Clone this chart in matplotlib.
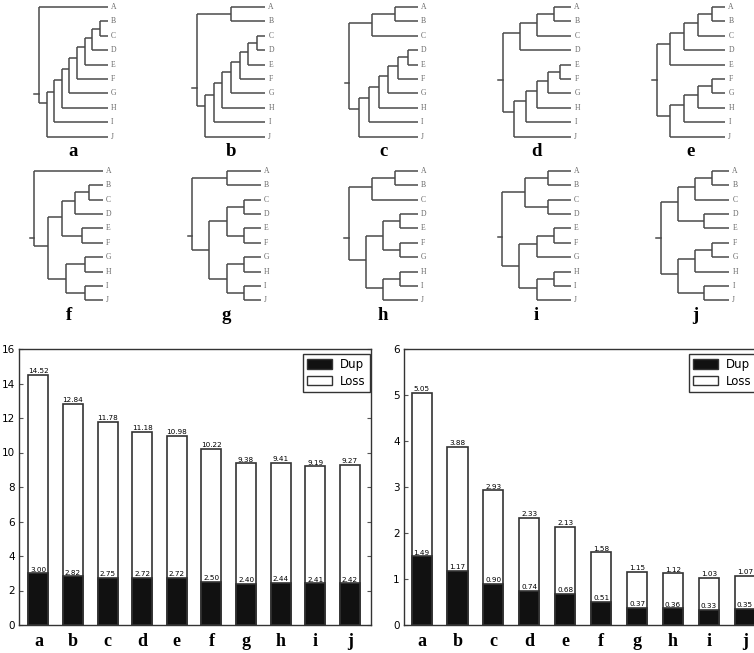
import numpy as np
import matplotlib.pyplot as plt
from matplotlib.patches import Patch

# ==========================================
# 数据
# ==========================================
labels = list('abcdefghij')

# 上方 10 棵树的拓扑 (Newick)
tree_newick = [
    "(A,((((((((B,C),D),E),F),G),H),I),J))",
    "((A,B),(((((((C,D),E),F),G),H),I),J))",
    "(((A,B),C),((((((D,E),F),G),H),I),J))",
    "((((A,B),C),D),(((((E,F),G),H),I),J))",
    "(((((A,B),C),D),E),((((F,G),H),I),J))",
    "(A,((((B,C),D),(E,F)),((G,H),(I,J))))",
    "((A,B),(((C,D),(E,F)),((G,H),(I,J))))",
    "(((A,B),C),(((D,E),(F,G)),((H,I),J)))",
    "(((A,B),(C,D)),(((E,F),G),((H,I),J)))",
    "((((A,B),C),(D,E)),(((F,G),H),(I,J)))",
]

# 下方柱状图
dup_left = [3.00, 2.82, 2.75, 2.72, 2.72, 2.50, 2.40, 2.44, 2.41, 2.42]
loss_left = [14.52, 12.84, 11.78, 11.18, 10.98, 10.22, 9.38, 9.41, 9.19, 9.27]
dup_right = [1.49, 1.17, 0.90, 0.74, 0.68, 0.51, 0.37, 0.36, 0.33, 0.35]
loss_right = [5.05, 3.88, 2.93, 2.33, 2.13, 1.58, 1.15, 1.12, 1.03, 1.07]

FIG_W, FIG_H = 754, 653
TREE_COLOR = '#4a4a4a'
SERIF = ['Liberation Serif', 'DejaVu Serif']


def parse_newick(s):
    """简单的 Newick 解析，返回嵌套 list / 叶子名字符串"""
    pos = 0

    def node():
        nonlocal pos
        if s[pos] == '(':
            pos += 1
            kids = [node()]
            while s[pos] == ',':
                pos += 1
                kids.append(node())
            pos += 1  # ')'
            return kids
        name = ''
        while pos < len(s) and s[pos] not in ',()':
            name += s[pos]
            pos += 1
        return name

    return node()


def n_leaves(t):
    return 1 if isinstance(t, str) else sum(n_leaves(k) for k in t)


def height(t):
    return 0 if isinstance(t, str) else 1 + max(height(k) for k in t)


def layout(t, x_parent, leaf_list, segs):
    """返回 (x, y, 子节点y列表)；叶子右对齐，内部节点 y 按 sqrt(叶子数) 加权"""
    if isinstance(t, str):
        leaf_list.append(t)
        return 1.0, float(len(leaf_list) - 1), None
    x = x_parent + (1.0 - x_parent) / (height(t) + 1) if x_parent is not None else 0.0
    pts = [layout(k, x, leaf_list, segs) for k in t]
    w = np.array([n_leaves(k) ** 0.5 for k in t])
    ys = np.array([p[1] for p in pts])
    y = float((w * ys).sum() / w.sum())
    segs.append(((x, x), (ys[0], ys[-1])))
    for cx, cy, _ in pts:
        segs.append(((x, cx), (cy, cy)))
    return x, y, ys


def draw_tree(ax, newick, letter):
    t = parse_newick(newick)
    leaves, segs = [], []
    _, _, child_ys = layout(t, None, leaves, segs)
    for xs, ys in segs:
        ax.plot(xs, ys, color=TREE_COLOR, lw=1.1, solid_capstyle='butt')
    # 根部短线 (按叶子数加权)
    w = np.array([n_leaves(k) for k in t], dtype=float)
    stub_y = (w * child_ys).sum() / w.sum()
    ax.plot([-0.07, 0], [stub_y, stub_y], color=TREE_COLOR, lw=1.1)
    for i, name in enumerate(leaves):
        ax.text(1.045, i, name, ha='left', va='center', fontsize=5.5,
                color='#666666', family=SERIF)
    ax.text(0.5, 10.05, letter, ha='center', va='center', fontsize=13.5,
            fontweight='bold', family=SERIF)
    ax.set_xlim(-0.15, 1.25)
    ax.set_ylim(9.5, -0.5)
    ax.axis('off')


fig = plt.figure(figsize=(FIG_W / 100, FIG_H / 100), dpi=100)

# 树的位置 (像素)：根节点 x，叶子 A 的 y
root_x = [39, 196.7, 349.3, 502.7, 656.7, 34.3, 192.3, 349, 502.3, 660.7]
row_top = [7, 7, 7, 7, 7, 170.7, 170.7, 170.7, 170.7, 170.7]
W = 68.5
DY = 14.4
for i in range(10):
    left = root_x[i] - 0.15 * W
    top = row_top[i] - 0.5 * DY
    ax = fig.add_axes([left / FIG_W, 1 - (top + 10 * DY) / FIG_H,
                       1.4 * W / FIG_W, 10 * DY / FIG_H])
    ax.patch.set_alpha(0)
    draw_tree(ax, tree_newick[i], labels[i])


def draw_bars(ax, dup, loss, width, xlim, ylim, yticks, right_ticks, leg_anchor):
    x = np.arange(len(labels))
    ax.bar(x, loss, width, color='white', edgecolor='#333333', lw=1.2, zorder=2)
    ax.bar(x, dup, width, color='#111111', edgecolor='#333333', lw=1.2, zorder=3)
    for xi, v in zip(x, loss):
        ax.annotate(f'{v:.2f}', (xi, v), xytext=(0, 0.5), textcoords='offset points',
                    ha='center', va='bottom', fontsize=5.2, zorder=4)
    for xi, v in zip(x, dup):
        ax.annotate(f'{v:.2f}', (xi, v), xytext=(0, 0.5), textcoords='offset points',
                    ha='center', va='bottom', fontsize=5.2, zorder=4)
    ax.set_xlim(*xlim)
    ax.set_ylim(*ylim)
    ax.set_yticks(yticks)
    ax.set_xticks(x)
    ax.set_xticklabels(labels, fontsize=13, fontweight='bold', family=SERIF)
    ax.tick_params(axis='x', length=0, pad=6)
    ax.tick_params(axis='y', direction='in', length=3, labelsize=7.5, right=right_ticks,
                   color='#555555', pad=3)
    for sp in ax.spines.values():
        sp.set_color('#333333')
        sp.set_linewidth(1.0)
    handles = [Patch(facecolor='#111111', edgecolor='#333333', label='Dup'),
               Patch(facecolor='white', edgecolor='#333333', label='Loss')]
    leg = ax.legend(handles=handles, loc='upper right', bbox_to_anchor=leg_anchor,
                    fontsize=8.5, fancybox=False, framealpha=1, edgecolor='#333333',
                    borderaxespad=0, handlelength=2.1, handleheight=0.8,
                    labelspacing=0.3, borderpad=0.35, handletextpad=0.7)
    leg.get_frame().set_linewidth(1.0)


ax_l = fig.add_axes([19 / FIG_W, 1 - 625 / FIG_H, 352 / FIG_W, 276 / FIG_H])
draw_bars(ax_l, dup_left, loss_left, 0.58, (-0.56, 9.61), (0, 16), range(0, 17, 2),
          True, (0.997, 0.982))

ax_r = fig.add_axes([404 / FIG_W, 1 - 625 / FIG_H, 352 / FIG_W, 276 / FIG_H])
draw_bars(ax_r, dup_right, loss_right, 0.56, (-0.49, 9.31), (0, 6), range(0, 7),
          False, (1.0, 0.982))

plt.savefig('out.png', dpi=100)
